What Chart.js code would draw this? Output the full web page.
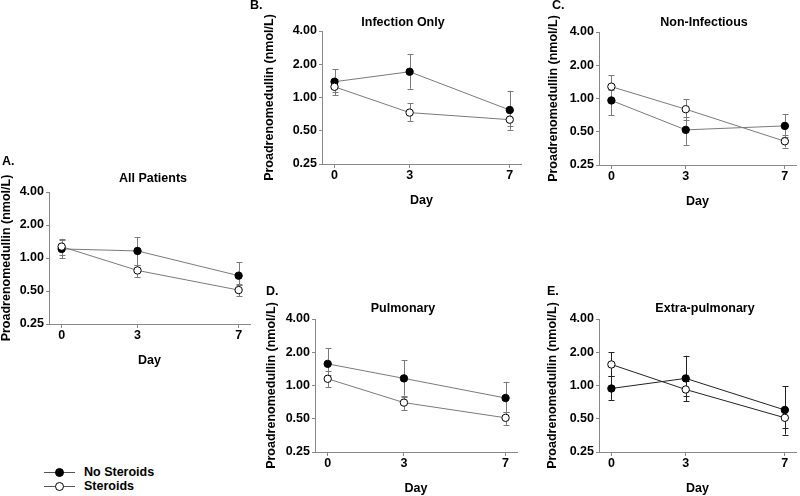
<!DOCTYPE html>
<html>
<head>
<meta charset="utf-8">
<script src="https://cdn.jsdelivr.net/npm/chart.js@4.4.1/dist/chart.umd.min.js"></script>
<style>
    body { margin: 0; background: #fff; width: 800px; height: 496px; overflow: hidden; position: relative; }
    canvas { position: absolute; }
    #legend { position: absolute; left: 44px; top: 465px; font: bold 12.5px "Liberation Sans", Arial, sans-serif; color: #000; }
    .item { height: 14px; display: flex; align-items: center; }
    .item svg { margin-right: 9px; }
</style>
</head>
<body>
<div id="legend"></div>
<script>
const days = [0, 3, 7];
const seriesNames = ['No Steroids', 'Steroids'];
const yTicks = [0.25, 0.5, 1, 2, 4];
const panelLetters = ['A.', 'B.', 'C.', 'D.', 'E.'];
const panelTitles = ['All Patients', 'Infection Only', 'Non-Infectious', 'Pulmonary', 'Extra-pulmonary'];
const yTitle = 'Proadrenomedullin (nmol/L)';
const xTitle = 'Day';

// one row per panel, one value per day
const noSteroids     = [[1.21, 1.16, 0.69], [1.39, 1.71, 0.77], [0.96, 0.52, 0.565], [1.57, 1.16, 0.77], [0.94, 1.16, 0.60]];
const noSteroidsLow  = [[1.00, 0.86, 0.57], [1.12, 1.20, 0.55], [0.71, 0.38, 0.45],  [1.25, 0.81, 0.58], [0.74, 0.80, 0.41]];
const noSteroidsHigh = [[1.45, 1.54, 0.91], [1.80, 2.48, 1.15], [1.20, 0.685, 0.725],[2.18, 1.70, 1.08], [1.21, 1.86, 0.98]];
const steroids       = [[1.27, 0.77, 0.51], [1.25, 0.73, 0.63], [1.28, 0.80, 0.41],  [1.15, 0.70, 0.51], [1.55, 0.92, 0.51]];
const steroidsLow    = [[1.06, 0.67, 0.45], [1.05, 0.61, 0.51], [1.02, 0.64, 0.36],  [0.97, 0.60, 0.44], [1.21, 0.72, 0.36]];
const steroidsHigh   = [[1.50, 0.87, 0.58], [1.48, 0.89, 0.76], [1.63, 0.98, 0.47],  [1.35, 0.79, 0.58], [2.00, 1.10, 0.60]];

// where each panel sits on the page
const layout = [
    { axisX: 49,  top: 192, bottom: 324, right: 251, yLabelX: 7,   titleX: 153, titleY: 179, letterX: 2,   letterY: 162, color: '#7a7a7a' },
    { axisX: 322, top: 31,  bottom: 164, right: 522, yLabelX: 270, titleX: 403, titleY: 23,  letterX: 250, letterY: 6,   color: '#7a7a7a' },
    { axisX: 599, top: 32,  bottom: 165, right: 797, yLabelX: 554, titleX: 704, titleY: 23,  letterX: 552, letterY: 6,   color: '#7a7a7a' },
    { axisX: 315, top: 319, bottom: 452, right: 518, yLabelX: 272, titleX: 403, titleY: 309, letterX: 266, letterY: 292, color: '#7a7a7a' },
    { axisX: 599, top: 319, bottom: 452, right: 797, yLabelX: 553, titleX: 705, titleY: 309, letterX: 547, letterY: 292, color: '#222222' },
];

const FONT = '"Liberation Sans", Arial, sans-serif';
const Y_W = 62, EXTRA_LEFT = 24, TOP_PAD = 50, X_H = 46;

const errorBars = {
    id: 'errorBars',
    beforeDatasetsDraw(chart) {
        const {ctx, scales: {x, y}} = chart;
        ctx.save();
        chart.data.datasets.forEach((ds) => {
            ctx.strokeStyle = ds.borderColor;
            ctx.lineWidth = 1;
            ds.low.forEach((lo, i) => {
                const px = Math.round(x.getPixelForValue(days[i])) + 0.5;
                const y1 = y.getPixelForValue(lo);
                const y2 = y.getPixelForValue(ds.high[i]);
                ctx.beginPath();
                ctx.moveTo(px, y1); ctx.lineTo(px, y2);
                ctx.moveTo(px - 3, Math.round(y1) + 0.5); ctx.lineTo(px + 3, Math.round(y1) + 0.5);
                ctx.moveTo(px - 3, Math.round(y2) + 0.5); ctx.lineTo(px + 3, Math.round(y2) + 0.5);
                ctx.stroke();
            });
        });
        ctx.restore();
    }
};

const panelText = {
    id: 'panelText',
    afterDraw(chart, args, opts) {
        const ctx = chart.ctx;
        ctx.save();
        ctx.fillStyle = '#000';
        ctx.font = 'bold 12.5px ' + FONT;
        ctx.textBaseline = 'middle';
        ctx.textAlign = 'left';
        ctx.fillText(opts.letter, opts.letterX, opts.letterY);
        ctx.textAlign = 'center';
        ctx.fillText(opts.title, opts.titleX, opts.titleY);
        ctx.restore();
    }
};

layout.forEach((p, k) => {
    const left = p.axisX - Y_W - EXTRA_LEFT;
    const top = p.top - TOP_PAD;
    const canvas = document.createElement('canvas');
    canvas.width = EXTRA_LEFT + Y_W + (p.right - p.axisX) + 4;
    canvas.height = TOP_PAD + (p.bottom - p.top) + X_H;
    canvas.style.left = left + 'px';
    canvas.style.top = top + 'px';
    document.body.appendChild(canvas);

    const mk = (vals, lo, hi, filled) => ({
        label: filled ? seriesNames[0] : seriesNames[1],
        data: vals.map((v, i) => ({ x: days[i], y: v })),
        low: lo, high: hi,
        borderColor: p.color,
        borderWidth: 1,
        pointRadius: 3.7,
        pointBorderWidth: 1,
        pointBorderColor: '#000',
        pointBackgroundColor: filled ? '#000' : '#fff',
        tension: 0,
    });

    new Chart(canvas, {
        type: 'line',
        data: {
            datasets: [
                mk(steroids[k], steroidsLow[k], steroidsHigh[k], false),
                mk(noSteroids[k], noSteroidsLow[k], noSteroidsHigh[k], true),
            ]
        },
        options: {
            responsive: false,
            animation: false,
            devicePixelRatio: 1,
            layout: { padding: { top: TOP_PAD, left: EXTRA_LEFT, right: 4, bottom: 0 } },
            plugins: {
                legend: { display: false },
                tooltip: { enabled: false },
                panelText: {
                    letter: panelLetters[k], title: panelTitles[k],
                    letterX: p.letterX - left, letterY: p.letterY - top,
                    titleX: p.titleX - left, titleY: p.titleY - top,
                },
            },
            scales: {
                x: {
                    type: 'linear', min: -0.5, max: 7.45,
                    afterBuildTicks: (s) => { s.ticks = days.map(v => ({ value: v })); },
                    afterFit: (s) => { s.height = X_H; },
                    grid: { drawOnChartArea: false, tickLength: 4, color: '#888' },
                    border: { color: '#888', width: 1 },
                    ticks: { color: '#000', padding: 0, font: { family: FONT, size: 12.5, weight: 'bold' } },
                    title: { display: true, text: xTitle, color: '#000', padding: { top: 0, bottom: 2 }, font: { family: FONT, size: 12.5, weight: 'bold' } },
                },
                y: {
                    type: 'logarithmic', min: 0.25, max: 4,
                    afterBuildTicks: (s) => { s.ticks = yTicks.map(v => ({ value: v })); },
                    afterFit: (s) => { s.width = Y_W; },
                    grid: { drawOnChartArea: false, tickLength: 3, color: '#888' },
                    border: { color: '#888', width: 1 },
                    ticks: { color: '#000', padding: 2, callback: (v) => Number(v).toFixed(2), font: { family: FONT, size: 12.5, weight: 'bold' } },
                    title: { display: true, text: yTitle, color: '#000', padding: { top: p.yLabelX - (left + EXTRA_LEFT) - 7.5, bottom: 0 }, font: { family: FONT, size: 12.5, weight: 'bold' } },
                },
            },
        },
        plugins: [errorBars, panelText],
    });
});

// shared legend
const legend = document.getElementById('legend');
seriesNames.forEach((name, i) => {
    const item = document.createElement('div');
    item.className = 'item';
    const fill = i === 0 ? '#000' : '#fff';
    item.innerHTML = '<svg width="31" height="14"><line x1="0" y1="7.5" x2="31" y2="7.5" stroke="#555" stroke-width="1"/>' +
        '<circle cx="15.5" cy="7.5" r="4" fill="' + fill + '" stroke="#000" stroke-width="1"/></svg><span>' + name + '</span>';
    legend.appendChild(item);
});
</script>
</body>
</html>
